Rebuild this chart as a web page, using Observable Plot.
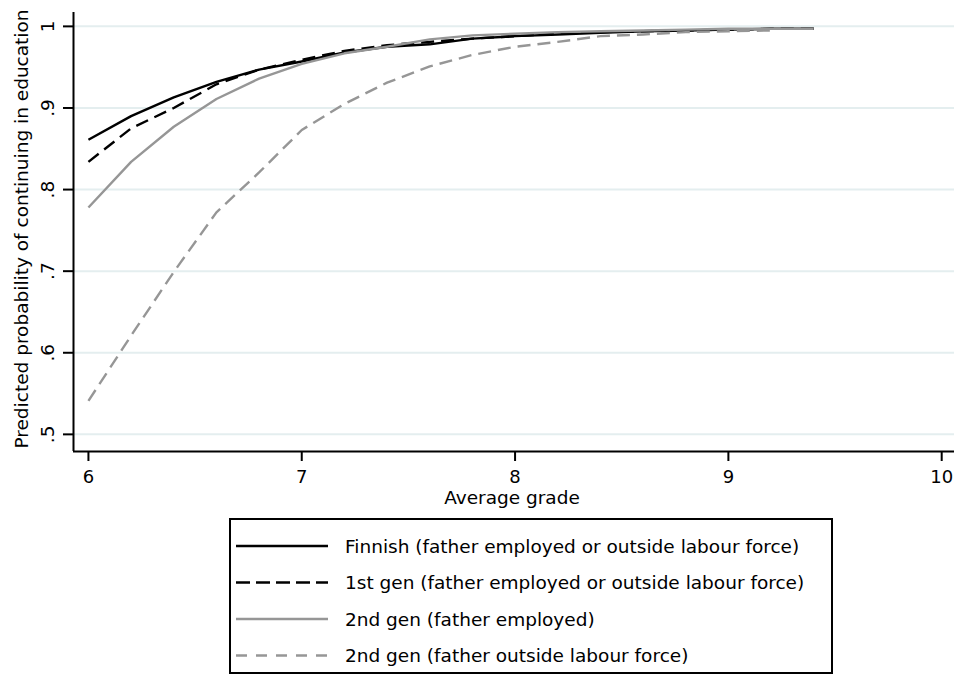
<!DOCTYPE html>
<html>
<head>
<meta charset="utf-8">
<script src="https://cdn.jsdelivr.net/npm/d3@7"></script>
<script src="https://cdn.jsdelivr.net/npm/@observablehq/plot@0.6"></script>
<style>
  body { margin: 0; background: #fff; }
  #wrap { position: relative; width: 954px; height: 675px; font-family: "DejaVu Sans", sans-serif; }
  #chart { position: absolute; left: 0; top: 0; }
  #legend { position: absolute; left: 229px; top: 518px; }
</style>
</head>
<body>
<div id="wrap">
  <div id="chart"></div>
  <div id="legend"></div>
</div>
<script>
// Predicted probability of continuing in education by average grade
const grades = [6.0, 6.2, 6.4, 6.6, 6.8, 7.0, 7.2, 7.4, 7.6, 7.8, 8.0, 8.2, 8.4, 8.6, 8.8, 9.0, 9.2, 9.4];

const finnish           = [0.861, 0.890, 0.913, 0.932, 0.947, 0.957, 0.968, 0.975, 0.978, 0.985, 0.988, 0.990, 0.992, 0.994, 0.995, 0.996, 0.997, 0.997];
const firstGen          = [0.834, 0.875, 0.900, 0.929, 0.947, 0.959, 0.970, 0.977, 0.981, 0.985, 0.988, 0.991, 0.993, 0.994, 0.995, 0.996, 0.997, 0.997];
const secondGenEmployed = [0.778, 0.834, 0.877, 0.911, 0.936, 0.954, 0.967, 0.975, 0.984, 0.989, 0.991, 0.993, 0.994, 0.995, 0.996, 0.997, 0.997, 0.997];
const secondGenOutside  = [0.541, 0.621, 0.699, 0.772, 0.821, 0.873, 0.905, 0.931, 0.951, 0.965, 0.975, 0.981, 0.988, 0.990, 0.993, 0.994, 0.995];

const seriesNames = [
  "Finnish (father employed or outside labour force)",
  "1st gen (father employed or outside labour force)",
  "2nd gen (father employed)",
  "2nd gen (father outside labour force)"
];
const seriesValues = [finnish, firstGen, secondGenEmployed, secondGenOutside];
const seriesStroke = ["#000000", "#000000", "#969696", "#969696"];
const seriesDash   = [null, "13,7", null, "13,7"];
const legendDash   = [null, "14,6", null, "11,9"];

const xTicks = [6, 7, 8, 9, 10];
const xTickLabels = ["6", "7", "8", "9", "10"];
const yTicks = [0.5, 0.6, 0.7, 0.8, 0.9, 1];
const yTickLabels = [".5", ".6", ".7", ".8", ".9", "1"];

const xTitle = "Average grade";
const yTitle = "Predicted probability of continuing in education";

const xDomain = [5.93, 10.06];
const yDomain = [0.479, 1.017];

// long-format table for the line marks
const rows = seriesValues.flatMap((vals, s) =>
  vals.map((v, i) => ({series: s, grade: grades[i], p: v}))
);

const font = "DejaVu Sans, sans-serif";

const chart = Plot.plot({
  width: 954,
  height: 510,
  marginTop: 12,
  marginLeft: 73,
  marginRight: 0,
  marginBottom: 59,
  style: {fontFamily: font, fontSize: "18px", color: "#000", background: "#fff", overflow: "visible"},
  x: {domain: xDomain, label: null},
  y: {domain: yDomain, label: null},
  marks: [
    Plot.gridY(yTicks, {stroke: "#e4eeef", strokeOpacity: 1, strokeWidth: 2}),
    ...seriesValues.map((_, s) =>
      Plot.line(rows.filter(d => d.series === s), {
        x: "grade", y: "p",
        stroke: seriesStroke[s],
        strokeWidth: 2.4,
        strokeDasharray: seriesDash[s],
        strokeLinejoin: "round",
        strokeLinecap: "butt"
      })
    ),
    Plot.ruleX([xDomain[0]], {stroke: "#000", strokeWidth: 2}),
    Plot.ruleY([yDomain[0]], {stroke: "#000", strokeWidth: 2}),
    Plot.axisX(xTicks, {
      tickSize: 10, tickPadding: 9, strokeWidth: 2,
      tickFormat: (d) => xTickLabels[xTicks.indexOf(d)],
      fontSize: 18, label: null
    }),
    Plot.axisY(yTicks, {tickSize: 10, strokeWidth: 2, tickFormat: () => "", label: null}),
    Plot.text(yTicks, {
      y: d => d, text: (d, i) => yTickLabels[i],
      frameAnchor: "left", dx: -25, rotate: -90,
      textAnchor: "middle", lineAnchor: "middle", fontSize: 18.5
    }),
    Plot.text([xTitle], {
      text: d => d, frameAnchor: "bottom", dy: 47, dx: -2,
      textAnchor: "middle", lineAnchor: "middle", fontSize: 18.5
    }),
    Plot.text([yTitle], {
      text: d => d, frameAnchor: "left", dx: -51, dy: -3, rotate: -90,
      textAnchor: "middle", lineAnchor: "middle", fontSize: 18.5
    })
  ]
});
document.getElementById("chart").appendChild(chart);

// legend box below the plot
const lw = 604, lh = 156;
const legend = d3.select("#legend").append("svg")
  .attr("width", lw).attr("height", lh)
  .style("font-family", font);
legend.append("rect")
  .attr("x", 1).attr("y", 1).attr("width", lw - 2).attr("height", lh - 2)
  .attr("fill", "#fff").attr("stroke", "#000").attr("stroke-width", 2);
seriesNames.forEach((name, s) => {
  const ry = 28 + 36.5 * s;
  legend.append("line")
    .attr("x1", 7).attr("x2", 99).attr("y1", ry).attr("y2", ry)
    .attr("stroke", seriesStroke[s]).attr("stroke-width", 2.4)
    .attr("stroke-dasharray", legendDash[s]);
  legend.append("text")
    .attr("x", 116).attr("y", ry + 6.5)
    .attr("font-size", 18.5).attr("fill", "#000")
    .text(name);
});
</script>
</body>
</html>
